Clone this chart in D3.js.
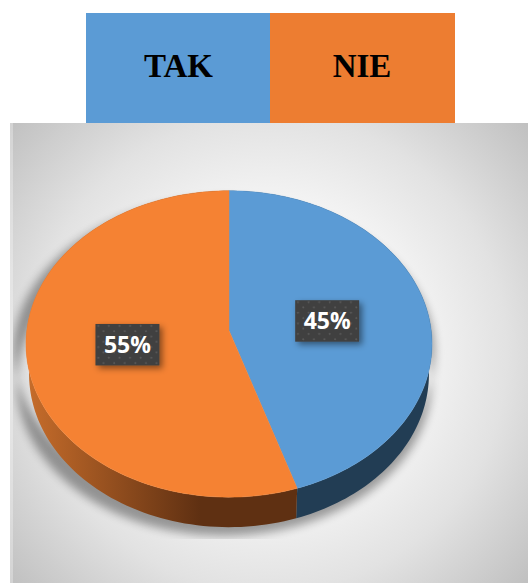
<!DOCTYPE html>
<html>
<head>
<meta charset="utf-8">
<script src="https://cdn.jsdelivr.net/npm/d3@7.9.0/dist/d3.min.js"></script>
<style>
  html, body { margin: 0; padding: 0; background: #fff; }
  svg { display: block; }
</style>
</head>
<body>
<svg id="chart" width="528" height="583"></svg>
<script>
const categories = ['TAK', 'NIE'];
const values = [45, 55];

const topColors = ['#5b9bd5', '#f58233'];
const legendColors = ['#5b9bd5', '#ed7d31'];

const svg = d3.select('#chart');
const defs = svg.append('defs');

// Background gradient
const bg = defs.append('radialGradient').attr('id', 'bg')
  .attr('gradientUnits', 'userSpaceOnUse')
  .attr('cx', 269).attr('cy', 353).attr('r', 350);
bg.append('stop').attr('offset', '0%').attr('stop-color', '#ffffff');
bg.append('stop').attr('offset', '40%').attr('stop-color', '#f6f6f6');
bg.append('stop').attr('offset', '68%').attr('stop-color', '#e2e2e2');
bg.append('stop').attr('offset', '100%').attr('stop-color', '#bfbfbf');

// Side wall shading
const sideOrange = defs.append('linearGradient').attr('id', 'sideOrange')
  .attr('gradientUnits', 'userSpaceOnUse')
  .attr('x1', 26).attr('x2', 200).attr('y1', 0).attr('y2', 0);
sideOrange.append('stop').attr('offset', '0%').attr('stop-color', '#c76d2b');
sideOrange.append('stop').attr('offset', '100%').attr('stop-color', '#5f3012');

// Dot pattern behind the labels
const dots = defs.append('pattern').attr('id', 'dots')
  .attr('patternUnits', 'userSpaceOnUse')
  .attr('width', 10.6).attr('height', 10.6);
dots.append('rect').attr('width', 10.6).attr('height', 10.6).attr('fill', '#404040');
dots.append('circle').attr('cx', 2.6).attr('cy', 2.6).attr('r', 1).attr('fill', '#5a5a5a');
dots.append('circle').attr('cx', 7.9).attr('cy', 7.9).attr('r', 1).attr('fill', '#5a5a5a');

defs.append('filter').attr('id', 'blur')
  .attr('x', '-20%').attr('y', '-20%').attr('width', '140%').attr('height', '140%')
  .append('feGaussianBlur').attr('stdDeviation', 5);

const boxShadow = defs.append('filter').attr('id', 'boxShadow')
  .attr('x', '-30%').attr('y', '-30%').attr('width', '170%').attr('height', '170%');
boxShadow.append('feDropShadow')
  .attr('dx', 3).attr('dy', 3).attr('stdDeviation', 3)
  .attr('flood-color', '#000').attr('flood-opacity', 0.45);

defs.append('clipPath').attr('id', 'shadowClip')
  .append('rect').attr('x', 13).attr('y', 123).attr('width', 432).attr('height', 416);

// Legend
const legendX = d3.scaleOrdinal().domain(categories).range([86, 270]);
const legendW = d3.scaleOrdinal().domain(categories).range([184, 185]);

svg.selectAll('rect.legend')
  .data(categories)
  .join('rect')
  .attr('class', 'legend')
  .attr('x', d => legendX(d))
  .attr('y', 13)
  .attr('width', d => legendW(d))
  .attr('height', 110)
  .attr('fill', (d, i) => legendColors[i]);

svg.selectAll('text.legend')
  .data(categories)
  .join('text')
  .attr('class', 'legend')
  .attr('x', (d, i) => [178.5, 362][i])
  .attr('y', 76.5)
  .attr('text-anchor', 'middle')
  .attr('font-family', '"Liberation Serif", serif')
  .attr('font-weight', 'bold')
  .attr('font-size', 33)
  .attr('fill', '#000')
  .text(d => d);

// Chart area
svg.append('rect')
  .attr('x', 10).attr('y', 123).attr('width', 518).attr('height', 460)
  .attr('fill', 'url(#bg)');
svg.append('rect')
  .attr('x', 10).attr('y', 123).attr('width', 3).attr('height', 460)
  .attr('fill', '#fff').attr('opacity', 0.3);

// Tilted disc: perspective moves the pie centre above the middle of the ellipse
const cx = 229, cy = 330.5, a = 202.2, b = 152, k = 0.088, depth = 30, lowerScale = 0.985;
const project = (angle, f = 1) => {
  const u = Math.sin(angle) * f, v = -Math.cos(angle) * f;
  const w = 1 - k * v;
  return [cx + a * u / w, cy + b * v / w];
};

const arcs = d3.pie().sort(null)(values);
const line = d3.line();
const edge = d => d3.range(0, 121).map(i =>
  project(d.startAngle + (d.endAngle - d.startAngle) * i / 120));
const slicePoints = d => [[cx, cy], ...edge(d)];
const wallPoints = d => {
  const e = edge(d);
  return [...e, ...e.slice().reverse().map(p => [cx + (p[0] - cx) * lowerScale, p[1] + depth])];
};

// Soft shadow under the disc
const shadow = svg.append('g').attr('clip-path', 'url(#shadowClip)')
  .append('g').attr('filter', 'url(#blur)').attr('opacity', 0.36);
shadow.selectAll('path')
  .data(arcs)
  .join('path')
  .attr('d', d => line(wallPoints(d)) + 'Z')
  .attr('transform', `translate(${cx - 5},8) scale(1.035,1) translate(${-cx},0)`)
  .attr('fill', '#000')
  .attr('stroke', '#000')
  .attr('stroke-width', 1);

// Side walls
svg.append('g').selectAll('path')
  .data(arcs)
  .join('path')
  .attr('d', d => line(wallPoints(d)) + 'Z')
  .attr('fill', (d, i) => i === 0 ? '#223d54' : 'url(#sideOrange)');

// Top faces
svg.append('g').selectAll('path')
  .data(arcs)
  .join('path')
  .attr('d', d => line(slicePoints(d)) + 'Z')
  .attr('fill', (d, i) => topColors[i])
  .attr('stroke', (d, i) => topColors[i])
  .attr('stroke-width', 0.5);

// Data labels
const labels = svg.append('g').selectAll('g')
  .data(arcs)
  .join('g')
  .attr('transform', d => {
    const p = project((d.startAngle + d.endAngle) / 2, 0.5);
    return `translate(${p[0] - 1},${p[1] + 2})`;
  });

labels.append('rect')
  .attr('x', -32).attr('y', -20.5).attr('width', 64).attr('height', 41.5)
  .attr('fill', 'url(#dots)')
  .attr('filter', 'url(#boxShadow)');

labels.append('text')
  .attr('y', 8.5)
  .attr('text-anchor', 'middle')
  .attr('font-family', '"Open Sans", sans-serif')
  .attr('font-weight', 'bold')
  .attr('font-size', 23)
  .attr('fill', '#fff')
  .text(d => d.value + '%');
</script>
</body>
</html>
